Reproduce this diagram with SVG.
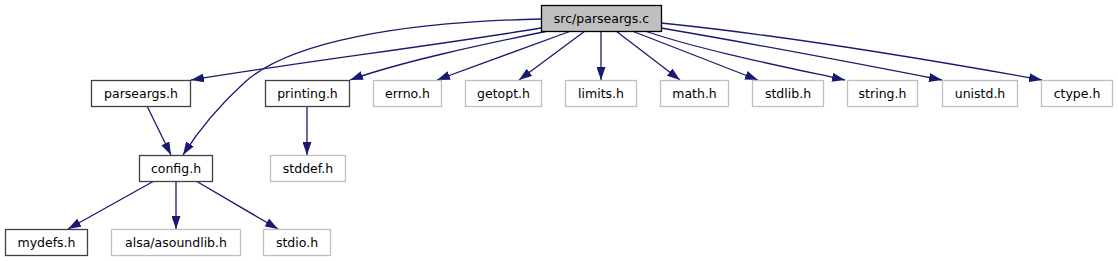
<svg xmlns="http://www.w3.org/2000/svg" width="1118" height="261" viewBox="0 0 1118 261">
<style>
.n rect{fill:#ffffff;stroke:#404040;stroke-width:1.3}
.u rect{fill:#ffffff;stroke:#bfbfbf;stroke-width:1.3}
.r rect{fill:#bfbfbf;stroke:#000000;stroke-width:1.3}
text{font-family:"DejaVu Sans","Liberation Sans",sans-serif;font-size:12.5px;text-anchor:middle;fill:#000000}
.e path{fill:none;stroke:#191970;stroke-width:1.3;marker-end:url(#ah)}
</style>
<defs>
<marker id="ah" markerUnits="userSpaceOnUse" markerWidth="13" markerHeight="9" refX="13" refY="4.5" orient="auto">
<path d="M0,0 L13,4.5 L0,9 z" fill="#191970"/>
</marker>
</defs>
<rect width="1118" height="261" fill="#ffffff"/>
<g class="e" id="edges">
<path d="M541,19 C400,22 290,42 245,82 C222,103 200,128 183,155"/>
<path d="M541,28 C440,45 300,62 191,80"/>
<path d="M548,31 C480,45 400,62 350,80"/>
<path d="M571,31 L437,80"/>
<path d="M585,31 L519,80"/>
<path d="M601,31 L601,80"/>
<path d="M616,31 L680,80"/>
<path d="M632,31 L758,80"/>
<path d="M645,31 C700,50 790,68 845,80"/>
<path d="M661,28 C760,45 860,64 942,80"/>
<path d="M661,23 C780,35 920,58 1042,80"/>
<path d="M147,106 L171,155"/>
<path d="M307,106 L307,155"/>
<path d="M154,181 L68,229"/>
<path d="M176,181 L176,229"/>
<path d="M196,181 L278,229"/>
</g>
<g id="root" class="r"><rect x="541.5" y="5.5" width="120" height="26"/><text x="601.5" y="22.5">src/parseargs.c</text></g>
<g id="parseargs_h" class="n"><rect x="91.5" y="80.5" width="99" height="26"/><text x="141" y="97.5">parseargs.h</text></g>
<g id="printing_h" class="n"><rect x="265.5" y="80.5" width="84" height="26"/><text x="307.5" y="97.5">printing.h</text></g>
<g id="errno_h" class="u"><rect x="373.5" y="80.5" width="68" height="26"/><text x="407.5" y="97.5">errno.h</text></g>
<g id="getopt_h" class="u"><rect x="465.5" y="80.5" width="76" height="26"/><text x="503.5" y="97.5">getopt.h</text></g>
<g id="limits_h" class="u"><rect x="565.5" y="80.5" width="71" height="26"/><text x="601" y="97.5">limits.h</text></g>
<g id="math_h" class="u"><rect x="660.5" y="80.5" width="68" height="26"/><text x="694.5" y="97.5">math.h</text></g>
<g id="stdlib_h" class="u"><rect x="752.5" y="80.5" width="71" height="26"/><text x="788" y="97.5">stdlib.h</text></g>
<g id="string_h" class="u"><rect x="847.5" y="80.5" width="70" height="26"/><text x="882.5" y="97.5">string.h</text></g>
<g id="unistd_h" class="u"><rect x="942.5" y="80.5" width="75" height="26"/><text x="980" y="97.5">unistd.h</text></g>
<g id="ctype_h" class="u"><rect x="1041.5" y="80.5" width="71" height="26"/><text x="1077" y="97.5">ctype.h</text></g>
<g id="config_h" class="n"><rect x="139.5" y="155.5" width="73" height="26"/><text x="176" y="172.5">config.h</text></g>
<g id="stddef_h" class="u"><rect x="270.5" y="155.5" width="75" height="26"/><text x="308" y="172.5">stddef.h</text></g>
<g id="mydefs_h" class="n"><rect x="5.5" y="229.5" width="82" height="26"/><text x="46.5" y="246.5">mydefs.h</text></g>
<g id="asoundlib_h" class="u"><rect x="111.5" y="229.5" width="129" height="26"/><text x="176" y="246.5">alsa/asoundlib.h</text></g>
<g id="stdio_h" class="u"><rect x="263.5" y="229.5" width="67" height="26"/><text x="297" y="246.5">stdio.h</text></g>
</svg>
